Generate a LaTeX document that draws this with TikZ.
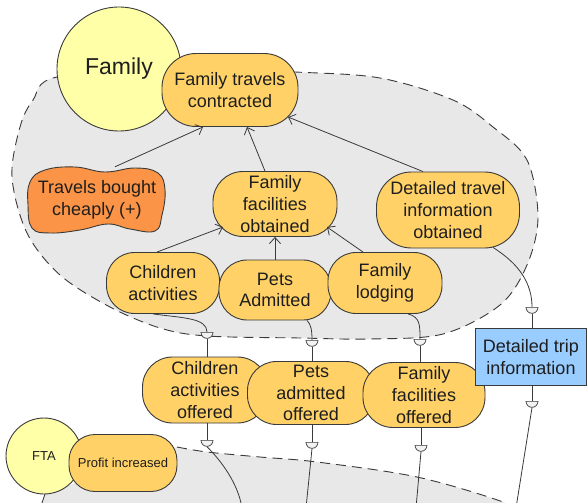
\documentclass[tikz,border=0pt]{standalone}
\usepackage{fontspec}
\setmainfont{Liberation Sans}
\usetikzlibrary{shapes.geometric,arrows.meta}
\definecolor{linec}{HTML}{3A3A3A}
\definecolor{textc}{HTML}{1E1E1E}
\definecolor{goalc}{HTML}{FFD166}
\definecolor{softc}{HTML}{FB9446}
\definecolor{actorc}{HTML}{FFFFA8}
\definecolor{resc}{HTML}{99CCFF}
\definecolor{boundc}{HTML}{E8E8E8}
\definecolor{dfill}{HTML}{F2F2F2}
\begin{document}
\begin{tikzpicture}[x=1pt,y=-1pt,
  outline/.style={draw=linec, line width=0.9pt},
  bigtext/.style={font=\fontsize{18}{21.6}\selectfont, text=textc, align=center, inner sep=0pt},
  goal/.style={outline, bigtext, fill=goalc},
  actor/.style={circle, outline, fill=actorc, text=textc, inner sep=0pt},
  resource/.style={rectangle, outline, bigtext, fill=resc},
  bound/.style={draw=linec, line width=0.9pt, dash pattern=on 10pt off 6pt},
  meansend/.style={draw=linec, line width=0.8pt, -{Straight Barb[length=6pt,width=11pt]}},
  depline/.style={draw=linec, line width=0.8pt},
  dmark/.style={semicircle, shape border rotate=180, anchor=chord center, draw=linec, fill=dfill, line width=0.7pt, inner sep=0pt, minimum width=12pt, minimum height=6pt}]
\useasboundingbox (0,0) rectangle (587,503);
\fill[white] (0,0) rectangle (587,503);

% boundary of the Family actor
\draw[bound, fill=boundc] plot[smooth cycle, tension=0.55] coordinates {
  (57,77) (180,68) (295,72) (380,78) (453,100) (493,127) (527,160) (538,217)
  (527,265) (500,305) (443,334) (370,339) (300,338) (207,336) (160,328)
  (110,307) (60,275) (27,233) (12,177) (20,127) (33,100)};

% boundary of the FTA actor
\fill[boundc] (45,494) -- (177,447) -- plot[smooth, tension=0.55] coordinates {
  (177,447) (207,452) (260,457) (317,462) (417,477) (503,502) (520,515)}
  -- (40,515) -- cycle;
\draw[bound] plot[smooth, tension=0.55] coordinates {
  (177,447) (207,452) (260,457) (317,462) (417,477) (503,502) (520,515)};
\draw[bound] (45,494) -- (38,515);

% Family actor and its goals
\node[actor, minimum size=124pt, font=\fontsize{23}{27}\selectfont] (fam) at (119,69) {Family};
\node[goal, minimum width=136pt, minimum height=73pt, rounded corners=34pt] (ftc) at (230,90) {Family travels\\contracted};

\draw[outline, fill=softc] plot[smooth cycle, tension=0.7] coordinates {
  (30,182) (45,170) (75,167) (105,172) (135,168) (158,173) (165,190)
  (162,215) (155,231) (130,229) (108,224) (80,230) (50,233) (32,228) (28,205)};
\node[bigtext, minimum width=137pt, minimum height=66pt] (sbc) at (97,200) {Travels bought\\cheaply (+)};

\node[goal, minimum width=124pt, minimum height=65pt, rounded corners=30pt] (ffo) at (275,204) {Family\\facilities\\obtained};
\node[goal, minimum width=143pt, minimum height=76pt, rounded corners=35pt] (dti) at (448,210) {Detailed travel\\information\\obtained};

\node[goal, minimum width=113pt, minimum height=61pt, rounded corners=28pt] (ca) at (163,283) {Children\\activities};
\node[goal, minimum width=112pt, minimum height=60pt, rounded corners=28pt] (pa) at (275,290) {Pets\\Admitted};
\node[goal, minimum width=114pt, minimum height=61pt, rounded corners=28pt] (fl) at (385,283) {Family\\lodging};

% dependums
\node[goal, minimum width=125pt, minimum height=66pt, rounded corners=30pt] (cao) at (205,390) {Children\\activities\\offered};
\node[goal, minimum width=127pt, minimum height=63pt, rounded corners=29pt] (pao) at (311,393) {Pets\\admitted\\offered};
\node[goal, minimum width=122pt, minimum height=65pt, rounded corners=30pt] (ffof) at (424,395) {Family\\facilities\\offered};
\node[resource, minimum width=111pt, minimum height=57pt] (dtinfo) at (531,357) {Detailed trip\\information};

% FTA actor
\node[actor, minimum size=76pt, font=\fontsize{13}{15}\selectfont] (fta) at (44,456) {FTA};
\node[goal, font=\fontsize{13}{15}\selectfont, minimum width=108pt, minimum height=57pt, rounded corners=26pt] (pi) at (123,463) {Profit increased};

% means-end links
\draw[meansend] ([xshift=18pt]sbc.north) -- ([xshift=-27pt]ftc.south);
\draw[meansend] ([xshift=-10pt]ffo.north) -- ([xshift=17pt]ftc.south);
\draw[meansend] ([xshift=-25pt]dti.north) -- ([xshift=58pt,yshift=-27pt]ftc.center);
\draw[meansend] ([xshift=-6pt]ca.north) -- ([xshift=-52pt,yshift=-23pt]ffo.center);
\draw[meansend] (pa.north) -- (pa.north |- ffo.south);
\draw[meansend] ([xshift=-22pt]fl.north) -- ([xshift=52pt,yshift=-23pt]ffo.center);

% dependency markers
\node[dmark] (d1) at (207,332) {};
\node[dmark] (d2) at (312,340) {};
\node[dmark] (d3) at (420,339) {};
\node[dmark] (d4) at (532,307) {};
\node[dmark] (d5) at (207,440) {};
\node[dmark] (d6) at (312,442) {};
\node[dmark] (d7) at (421,445) {};
\node[dmark] (d8) at (532,401) {};

\coordinate (e5) at (242,508);
\coordinate (e6) at (306,508);
\coordinate (e7) at (416,508);
\coordinate (e8) at (516,508);

% dependency links, depender side
\draw[depline] ([xshift=-10pt]ca.south) .. controls +(30,4) and +(0,-14) .. (d1.chord center);
\draw[depline] ([xshift=32pt]pa.south) .. controls +(4,4) and +(0,-10) .. (d2.chord center);
\draw[depline] ([xshift=23pt]fl.south) .. controls +(12,3) and +(0,-14) .. (d3.chord center);
\draw[depline] ([xshift=45pt,yshift=1pt]dti.south) .. controls +(27,17) and +(0,-23) .. (d4.chord center);

\draw[depline] (d1.apex) -- (d1.apex |- cao.north);
\draw[depline] (d2.apex) -- (d2.apex |- pao.north);
\draw[depline] (d3.apex) -- (d3.apex |- ffof.north);
\draw[depline] (d4.apex) -- (d4.apex |- dtinfo.north);

% dependency links, dependee side
\draw[depline] (cao.south -| d5.chord center) -- (d5.chord center);
\draw[depline] (pao.south -| d6.chord center) -- (d6.chord center);
\draw[depline] (ffof.south -| d7.chord center) -- (d7.chord center);
\draw[depline] (dtinfo.south -| d8.chord center) -- (d8.chord center);

\draw[depline] (d5.apex) .. controls +(14,14) and +(-4,-25) .. (e5);
\draw[depline] (d6.apex) -- (e6);
\draw[depline] (d7.apex) -- (e7);
\draw[depline] (d8.apex) -- (e8);
\end{tikzpicture}
\end{document}
